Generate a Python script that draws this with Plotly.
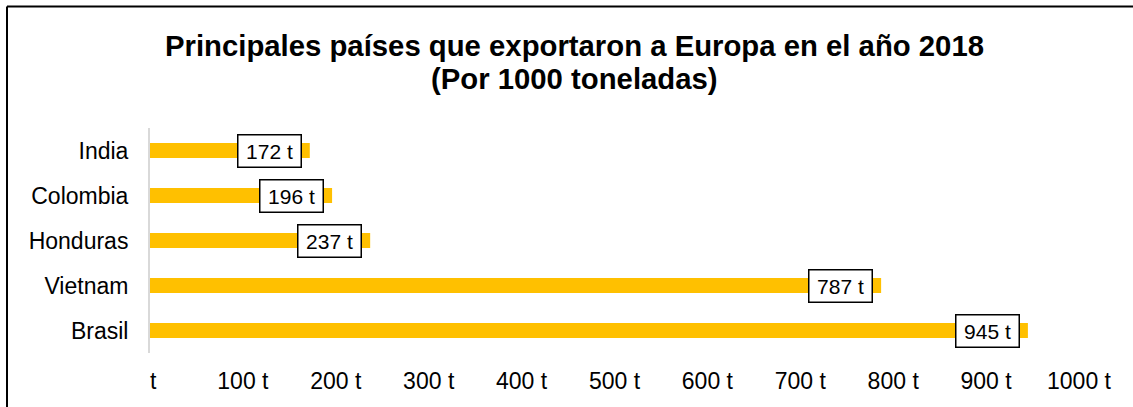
import plotly.graph_objects as go

# Export volumes to Europe, 2018 (thousand tonnes), listed top to bottom
countries = ["India", "Colombia", "Honduras", "Vietnam", "Brasil"]
volumes = [172, 196, 237, 787, 945]

tick_values = [0, 100, 200, 300, 400, 500, 600, 700, 800, 900, 1000]
tick_labels = ["\u00a0t", "100 t", "200 t", "300 t", "400 t", "500 t",
               "600 t", "700 t", "800 t", "900 t", "1000 t"]

title_line1 = "Principales países que exportaron a Europa en el año 2018"
title_line2 = "(Por 1000 toneladas)"

FONT = "Liberation Sans, Arial, sans-serif"
W, H = 1133, 407
ML, MR, MT, MB = 150, 54, 128, 54
PW, PH = W - ML - MR, H - MT - MB


def px_to_paper_x(px):
    return (px - ML) / PW


def px_to_paper_y(py):
    return 1 + (MT - py) / PH


fig = go.Figure()
fig.add_trace(go.Bar(
    x=volumes,
    y=countries,
    orientation="h",
    width=0.333,
    marker=dict(color="#FFC000", line=dict(width=0)),
    hoverinfo="skip",
))

annotations = []
# Boxed value labels sitting just inside the end of each bar
for c, v in zip(countries, volumes):
    annotations.append(dict(
        x=v, y=c, xref="x", yref="y",
        text=f"{v} t",
        showarrow=False,
        xanchor="right", yanchor="middle",
        xshift=-8,
        width=62, height=31,
        align="center", valign="middle",
        bgcolor="white",
        bordercolor="black", borderwidth=1.5, borderpad=0,
        font=dict(family=FONT, size=21, color="black"),
    ))

# Two-line bold title
for txt, py in [(title_line1, 45), (title_line2, 79)]:
    annotations.append(dict(
        x=px_to_paper_x(574), y=px_to_paper_y(py),
        xref="paper", yref="paper",
        text=f"<b>{txt}</b>",
        showarrow=False,
        xanchor="center", yanchor="middle",
        font=dict(family=FONT, size=29.3, color="black"),
    ))

# Chart frame (top and left edges)
shapes = [
    dict(type="line", xref="paper", yref="paper",
         x0=px_to_paper_x(7), x1=px_to_paper_x(W + 10),
         y0=px_to_paper_y(6.5), y1=px_to_paper_y(6.5),
         line=dict(color="black", width=2)),
    dict(type="line", xref="paper", yref="paper",
         x0=px_to_paper_x(7), x1=px_to_paper_x(7),
         y0=px_to_paper_y(6.5), y1=px_to_paper_y(H + 10),
         line=dict(color="black", width=2)),
]

fig.update_layout(
    width=W, height=H,
    margin=dict(l=ML, r=MR, t=MT, b=MB, pad=0),
    paper_bgcolor="white",
    plot_bgcolor="white",
    showlegend=False,
    annotations=annotations,
    shapes=shapes,
    font=dict(family=FONT, color="black"),
)

fig.update_xaxes(
    range=[0, 1000],
    tickvals=tick_values,
    ticktext=tick_labels,
    showgrid=False,
    zeroline=False,
    showline=False,
    ticks="",
    ticklabelstandoff=12,
    tickfont=dict(family=FONT, size=23, color="black"),
    fixedrange=True,
)

fig.update_yaxes(
    autorange="reversed",
    showgrid=False,
    zeroline=False,
    showline=True,
    linecolor="#D9D9D9",
    linewidth=2,
    ticks="",
    ticklabelstandoff=15,
    tickfont=dict(family=FONT, size=23, color="black"),
    fixedrange=True,
)

fig.write_html("out.html", config={"displayModeBar": False})
